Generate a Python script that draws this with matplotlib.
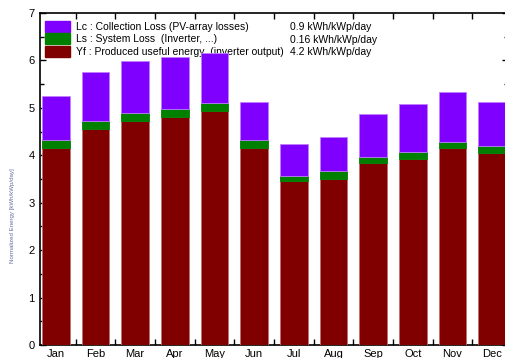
"""Monthly normalized energy (PV) stacked bar chart."""
import numpy as np
import matplotlib
matplotlib.use('Agg')
import matplotlib.pyplot as plt
from matplotlib.patches import Patch
from matplotlib.ticker import MultipleLocator, FixedLocator

plt.rcParams['font.family'] = ['Liberation Sans', 'DejaVu Sans']

months = ['Jan', 'Feb', 'Mar', 'Apr', 'May', 'Jun',
          'Jul', 'Aug', 'Sep', 'Oct', 'Nov', 'Dec']
# Yf: produced useful energy, Ls: system loss, Lc: collection loss (kWh/kWp/day)
yf = [4.16, 4.56, 4.73, 4.81, 4.93, 4.16, 3.46, 3.51, 3.83, 3.92, 4.15, 4.04]
ls = [0.16, 0.17, 0.17, 0.17, 0.17, 0.16, 0.11, 0.15, 0.14, 0.14, 0.14, 0.16]
lc = [0.93, 1.03, 1.09, 1.10, 1.06, 0.81, 0.66, 0.72, 0.90, 1.02, 1.04, 0.93]

labels = ['Lc : Collection Loss (PV-array losses)',
          'Ls : System Loss  (Inverter, ...)',
          'Yf : Produced useful energy  (inverter output)']
values = ['0.9 kWh/kWp/day', '0.16 kWh/kWp/day', '4.2 kWh/kWp/day']
colors = ['#8000ff', '#008000', '#800000']
edges = ['#c080ff', '#60a060', '#c07070']

fig = plt.figure(figsize=(5.06, 3.58), dpi=100)
ax = fig.add_axes([40 / 506, 13 / 358, 468 / 506, 332 / 358])

x = np.arange(len(months))
yf = np.array(yf); ls = np.array(ls); lc = np.array(lc)
w = 0.7
ax.bar(x, yf, w, color=colors[2], edgecolor=edges[2], lw=0.6, zorder=3)
ax.bar(x, ls, w, bottom=yf, color=colors[1], edgecolor=colors[1], lw=0.6, zorder=3)
ax.bar(x, lc, w, bottom=yf + ls, color=colors[0], edgecolor=edges[0], lw=0.6, zorder=3)

ax.set_xlim(-0.4, 11.4)
ax.set_ylim(0, 7)

ax.set_xticks(x)
ax.set_xticklabels(months)
ax.xaxis.set_minor_locator(FixedLocator(x[:-1] + 0.5))
ax.tick_params(axis='x', which='major', length=0, pad=3, labelsize=8)
ax.tick_params(axis='x', which='minor', direction='in', length=4,
               top=True, bottom=True, width=1)
ax.yaxis.set_major_locator(MultipleLocator(1))
ax.yaxis.set_minor_locator(MultipleLocator(0.5))
ax.tick_params(axis='y', which='both', direction='in', left=True, right=True,
               width=1, labelsize=8, pad=4)
ax.tick_params(axis='y', which='major', length=4)
ax.tick_params(axis='y', which='minor', length=3)
for s in ax.spines.values():
    s.set_linewidth(1.2)

ax.set_ylabel('Normalized Energy [kWh/kWp/day]', fontsize=4.4, color='#6070a0')
ax.yaxis.set_label_coords(-0.053, 0.39)

handles = [Patch(facecolor=c, edgecolor=c) for c in colors]
leg = ax.legend(handles, labels, loc='upper left',
                bbox_to_anchor=(5 / 468, 1 - 8 / 332), frameon=False,
                borderpad=0, borderaxespad=0, handlelength=2.4,
                handleheight=1.2, labelspacing=0.15, handletextpad=0.6,
                fontsize=7.5)
leg.set_zorder(1)
for i, v in enumerate(values):
    ax.text(0.534, 0.957 - i * 0.0377, v, transform=ax.transAxes, fontsize=7.5,
            va='center', ha='left', zorder=1)

plt.savefig('out.png', dpi=100)
